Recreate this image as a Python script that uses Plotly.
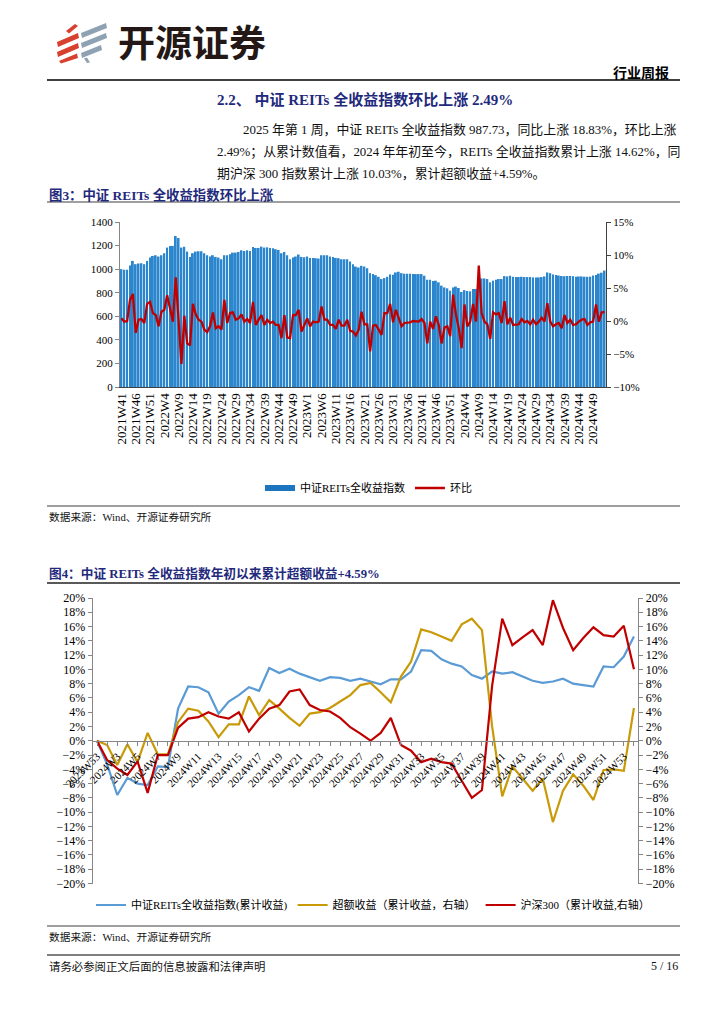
import plotly.graph_objects as go

# The page body has an 8px margin: map page pixels onto a 716x1008 figure
FW, FH, OFF = 716, 1008, 8
def px(x): return (x - OFF) / FW
def py(y): return 1 - (y - OFF) / FH

SERIF = "Liberation Serif, Noto Sans CJK SC, serif"
CJK = "Noto Sans CJK SC, sans-serif"
NAVY = "#1F2A7C"

# ---------------- Chart 1 data ----------------
weeks1 = ([f"2021W{w}" for w in range(41, 53)] + [f"2022W{w}" for w in range(1, 54)] +
          [f"2023W{w}" for w in range(1, 53)] + [f"2024W{w}" for w in range(1, 53)] + ["2025W1"])
reits_index = [
    1000, 995, 995, 1030, 1070, 1042, 1048, 1050, 1042, 1070,
    1098, 1112, 1118, 1107, 1118, 1135, 1183, 1197, 1197, 1281,
    1264, 1183, 1190, 1149, 1104, 1135, 1149, 1152, 1152, 1135,
    1118, 1107, 1118, 1104, 1098, 1084, 1118, 1118, 1126, 1140,
    1140, 1146, 1160, 1154, 1160, 1154, 1188, 1180, 1180, 1191,
    1183, 1185, 1180, 1177, 1169, 1163, 1135, 1146, 1118, 1084,
    1098, 1107, 1124, 1104, 1101, 1107, 1095, 1095, 1093, 1090,
    1118, 1118, 1118, 1107, 1104, 1095, 1093, 1084, 1084, 1084,
    1065, 1042, 1022, 1014, 1028,
    1022, 1008, 966, 958, 949, 935, 916, 924, 935, 955,
    952, 972, 978, 966, 961, 961, 961, 958, 958, 958,
    958, 944, 910, 910, 899, 902, 888, 860, 845, 837,
    817, 845, 852, 840, 806, 822, 815, 812, 832, 832,
    902, 921, 921, 916, 888, 902, 910, 916, 916, 941,
    938, 944, 935, 933, 933, 935, 933, 933, 933, 930,
    930, 930, 933, 938, 972, 966, 955, 950, 946, 942,
    940, 942, 942, 940, 936, 938, 938, 936, 935,
    936, 946, 950, 962, 970, 988,
]
wow_change = [
    0.4, -0.1, 0.0, 3.2, 4.1, -1.8, 0.2, 0.3, -0.3, 2.6,
    2.9, 1.2, 0.9, -0.8, 1.4, 1.7, 3.9, 2.0, -0.1, 6.6,
    -0.1, -6.5, 0.8, -3.4, -3.7, 2.6, 1.0, 0.2, -0.1, -1.3,
    -1.7, -0.8, 1.3, -1.1, -0.8, -1.3, 3.2, -0.3, 1.2, 1.3,
    0.2, 0.4, 1.0, -0.1, 0.3, -0.3, 2.9, -0.6, 0.2, 0.9,
    -0.6, 0.2, -0.3, -0.1, -0.6, -0.6, -2.6, 0.9, -2.5, -2.6,
    0.9, 0.9, 1.7, -1.6, -0.6, 0.4, -0.8, -0.1, -0.2, -0.1,
    2.2, 0.2, 0.2, -0.6, -0.6, -1.2, 0.2, -0.7, -0.7, 0.2,
    -1.5, -1.6, -2.2, -1.3, 1.4, -0.5,
    -0.5, -4.6, -0.7, -0.6, -1.3, -2.1, 1.2, 1.2, 2.6, -0.2,
    1.7, 0.3, -0.8, -0.3, -0.3, -0.2, 0.0, -0.1, -0.1, 0.3,
    -0.3, -3.4, -0.1, -1.2, 0.7, -0.6, -3.4, -1.0, -0.8, -2.3,
    4.0, 1.0, -1.1, -4.1, 2.5, -0.8, -0.1, 2.6, -0.1, 8.4,
    1.2, -0.1, -0.5, -2.7, 1.3, 1.0, 1.2, -0.3, 3.0, -0.5,
    0.5, -0.6, -0.5, -0.5, 0.3, -0.2, 0.0, -0.5, 0.2, -0.5,
    -0.1, 0.5, -0.1, 2.7, -0.1, -0.8, -0.5, -0.3, -1.1,
    0.9, -0.3, 0.2, -0.6, -0.5, -0.1, 0.2, 0.3, -0.6, -0.2,
    -0.1, 2.5, -0.1, 1.3, 1.4,
]
ticktext1 = [c if i % 5 == 0 else "" for i, c in enumerate(weeks1)]

# ---------------- Chart 2 data ----------------
weeks2 = ["2023W53"] + [f"2024W{w}" for w in range(2, 54)] + ["2025W1"]
reits_cum = [
    0, -3.3, -7.6, -5.2, -6.0, -6.2, -3.6, -3.7, 4.5, 7.6,
    7.5, 6.8, 3.8, 5.5, 6.4, 7.5, 7.0, 10.2, 9.5, 10.1,
    9.4, 8.9, 8.4, 8.9, 8.8, 8.4, 8.7, 8.3, 7.9, 8.6,
    8.6, 9.7, 12.7, 12.6, 11.4, 10.8, 10.4, 9.2, 8.7, 9.7,
    9.4, 9.6, 9.0, 8.4, 8.1, 8.3, 8.7, 8.0, 7.8, 7.6,
    10.4, 10.3, 11.8, 14.62,
]
excess_cum = [
    0, -0.6, -3.4, -0.5, -3.0, 1.1, -1.9, -1.9, 2.6, 4.5,
    4.2, 2.7, 0.5, 2.3, 2.3, 6.2, 3.6, 5.7, 4.5, 3.2,
    2.1, 3.8, 4.0, 4.6, 5.5, 6.4, 7.8, 8.1, 6.8, 5.4,
    9.0, 11.1, 15.6, 15.2, 14.6, 14.0, 16.3, 17.1, 15.5, 2.0,
    -7.8, -3.6, -5.3, -7.0, -5.3, -11.4, -7.0, -4.7, -6.3, -8.3,
    -4.1, -4.0, -4.2, 4.59,
]
hs300_cum = [
    0, -2.7, -3.9, -4.8, -2.9, -7.3, -2.0, -2.0, 1.8, 3.1,
    3.3, 4.0, 3.4, 3.1, 4.0, 1.3, 3.1, 4.5, 5.0, 6.9,
    7.2, 5.0, 4.3, 4.1, 3.2, 1.9, 1.0, 0.0, 1.1, 3.2,
    -0.6, -1.4, -3.0, -2.5, -3.0, -3.2, -5.6, -8.0, -6.9, 7.7,
    17.1, 13.4, 14.5, 15.5, 13.4, 19.7, 15.8, 12.7, 14.4, 15.9,
    14.8, 14.6, 16.1, 10.03,
]
ticktext2 = [c if i % 2 == 0 else "" for i, c in enumerate(weeks2)]

# ---------------- Figure ----------------
fig = go.Figure()

BAR_BLUE = "#2B86CD"
RED = "#C00000"
fig.add_trace(go.Bar(x=weeks1, y=reits_index, marker=dict(color=BAR_BLUE, line=dict(width=0)),
                     xaxis="x", yaxis="y", showlegend=False, name="中证REITs全收益指数"))
fig.add_trace(go.Scatter(x=[None], y=[None], mode="lines", line=dict(color="#1B75BF", width=6),
                         name="中证REITs全收益指数", legend="legend", xaxis="x", yaxis="y"))
fig.add_trace(go.Scatter(x=weeks1, y=wow_change, mode="lines", line=dict(color=RED, width=2.3),
                         name="环比", xaxis="x", yaxis="y2", legend="legend"))

fig.add_trace(go.Scatter(x=weeks2, y=reits_cum, mode="lines", line=dict(color="#5B9BD5", width=2.2),
                         name="中证REITs全收益指数(累计收益)", xaxis="x2", yaxis="y3", legend="legend2"))
fig.add_trace(go.Scatter(x=weeks2, y=excess_cum, mode="lines", line=dict(color="#C89A08", width=2.2),
                         name="超额收益（累计收益，右轴）", xaxis="x2", yaxis="y4", legend="legend2"))
fig.add_trace(go.Scatter(x=weeks2, y=hs300_cum, mode="lines", line=dict(color=RED, width=2.2),
                         name="沪深300（累计收益,右轴）", xaxis="x2", yaxis="y4", legend="legend2"))

AX = "#868686"
tickfont11 = dict(family=SERIF, size=11, color="#000")
tickfont12 = dict(family=SERIF, size=12, color="#000")

c1y = [py(387), py(222)]
c2y = [py(883.5), py(598)]
fig.update_layout(
    width=FW, height=FH, margin=dict(l=0, r=0, t=0, b=0, pad=0, autoexpand=False),
    paper_bgcolor="white", plot_bgcolor="white",
    bargap=0.35,
    xaxis=dict(domain=[px(120), px(606)], anchor="y", type="category", range=[-0.5, 169.5],
               tickmode="array", tickvals=weeks1, ticktext=ticktext1, tickangle=-90,
               tickfont=dict(family=SERIF, size=13, color="#000"), showline=True, linecolor="#404040",
               linewidth=1, ticks="", showgrid=False, zeroline=False, automargin=False),
    yaxis=dict(domain=c1y, anchor="x", range=[0, 1400], dtick=200, tickfont=tickfont11,
               showline=True, linecolor=AX, ticks="outside", ticklen=4, tickcolor=AX,
               showgrid=False, zeroline=False, automargin=False),
    yaxis2=dict(overlaying="y", side="right", anchor="x", range=[-10, 15], dtick=5,
                ticksuffix="%", tickfont=tickfont11, showline=True, linecolor="#404040",
                ticks="outside", ticklen=4, tickcolor="#404040", showgrid=False, zeroline=False,
                automargin=False),
    xaxis2=dict(domain=[px(92.7), px(638.3)], anchor="free", position=(c2y[0] + c2y[1]) / 2,
                type="category", range=[-0.425, 53.43], tickmode="array", tickvals=weeks2,
                ticktext=ticktext2, tickangle=-45, tickfont=dict(family=SERIF, size=11, color="#000"),
                showline=True, linecolor=AX, linewidth=1.2, ticks="outside", ticklen=4, tickcolor=AX,
                showgrid=False, zeroline=False, automargin=False),
    yaxis3=dict(domain=c2y, anchor="x2", range=[-20, 20], dtick=2, ticksuffix="%",
                tickfont=tickfont12, showline=True, linecolor=AX, ticks="outside", ticklen=4,
                tickcolor=AX, showgrid=False, zeroline=False, automargin=False),
    yaxis4=dict(overlaying="y3", side="right", anchor="x2", range=[-20, 20], dtick=2,
                ticksuffix="%", tickfont=tickfont12, showline=True, linecolor=AX, ticks="outside",
                ticklen=4, tickcolor=AX, showgrid=False, zeroline=False, automargin=False),
    legend=dict(orientation="h", x=px(260), xanchor="left", y=py(488), yanchor="middle",
                font=dict(family=SERIF, size=11, color="#000"), itemwidth=30,
                bgcolor="rgba(0,0,0,0)", tracegroupgap=0),
    legend2=dict(orientation="h", x=px(91), xanchor="left", y=py(905), yanchor="middle",
                 font=dict(family=SERIF, size=11, color="#000"), itemwidth=30,
                 bgcolor="rgba(0,0,0,0)"),
)

# ---------------- Page decoration ----------------
shapes = []
def hline(y, x0=47, x1=680, color="#7f7f7f", width=1.5):
    shapes.append(dict(type="line", xref="paper", yref="paper", x0=px(x0), x1=px(x1),
                       y0=py(y), y1=py(y), line=dict(color=color, width=width)))

hline(80, color="#000000", width=1.5)
hline(202, color="#7f7f7f", width=1.5)
hline(506, color="#7f7f7f", width=1.5)
hline(583, color="#222222", width=1.5)
hline(926, color="#7f7f7f", width=1.5)
hline(955, color="#7f7f7f", width=2)

def poly(pts, color):
    d = "M " + " L ".join(f"{px(x):.5f},{py(y):.5f}" for x, y in pts) + " Z"
    shapes.append(dict(type="path", xref="paper", yref="paper", path=d,
                       fillcolor=color, line=dict(width=0)))

LOGO_RED = "#D8402F"
LOGO_GRAY = "#8FA2B3"
poly([(66, 31), (75, 24), (78, 26), (69, 33.5)], LOGO_RED)
poly([(57, 42), (78, 33), (79, 38), (58, 47)], LOGO_RED)
poly([(57, 52), (78, 43), (79, 48), (58, 57)], LOGO_RED)
poly([(59, 61), (77, 53.5), (78, 58), (61, 63.5)], LOGO_RED)
poly([(81, 33), (106, 23), (107, 28), (82, 38)], LOGO_GRAY)
poly([(81, 43), (106, 33), (107, 38), (82, 48)], LOGO_GRAY)
poly([(81, 53), (101, 45), (102, 50), (82, 58)], LOGO_GRAY)
poly([(84, 58.5), (87, 57.5), (90, 62.5), (87, 63)], LOGO_GRAY)
fig.update_layout(shapes=shapes)

ann = []
def text(x, y, s, size=12, color="#000", anchor="left", family=SERIF, bold=False):
    if bold:
        s = f"<b>{s}</b>"
    ann.append(dict(xref="paper", yref="paper", x=px(x), y=py(y), text=s, showarrow=False,
                    xanchor=anchor, yanchor="middle", font=dict(family=family, size=size, color=color)))

text(116, 41, "开源证券", size=37, color="#231815", family=CJK, bold=True)
text(611, 72, "行业周报", size=14, family=CJK, bold=True)
text(215, 99, "2.2、 中证 REITs 全收益指数环比上涨 2.49%", size=15, color=NAVY, bold=True)
text(241, 129, "2025 年第 1 周，中证 REITs 全收益指数 987.73，同比上涨 18.83%，环比上涨", size=12.9, color="#111")
text(215, 152, "2.49%；从累计数值看，2024 年年初至今，REITs 全收益指数累计上涨 14.62%，同", size=12.9, color="#111")
text(215, 174, "期沪深 300 指数累计上涨 10.03%，累计超额收益+4.59%。", size=12.9, color="#111")
text(47, 195, "图3：中证 REITs 全收益指数环比上涨", size=13.4, color=NAVY, bold=True)
text(47, 517, "数据来源：Wind、开源证券研究所", size=10.7, color="#111")
text(47, 573, "图4：中证 REITs 全收益指数年初以来累计超额收益+4.59%", size=12.7, color=NAVY, bold=True)
text(47, 937, "数据来源：Wind、开源证券研究所", size=10.7, color="#111")
text(47, 966, "请务必参阅正文后面的信息披露和法律声明", size=11.4, color="#111")
text(680, 966, "5 / 16", size=12, color="#111", anchor="right")
fig.update_layout(annotations=ann)

fig.write_html("out.html")
